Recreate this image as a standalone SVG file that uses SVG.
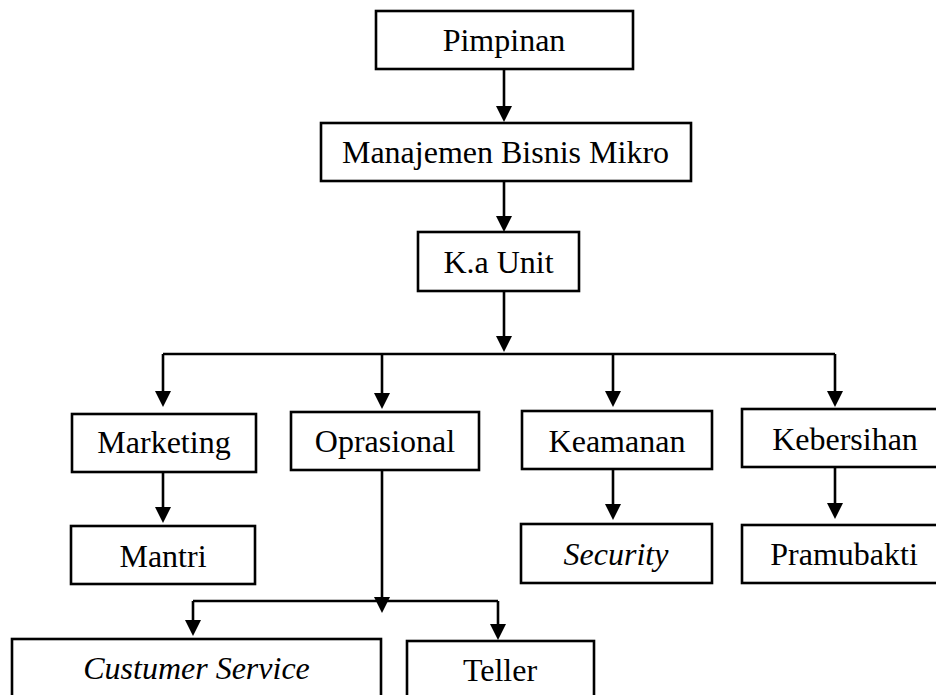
<svg xmlns="http://www.w3.org/2000/svg" width="936" height="695" viewBox="0 0 936 695">
<style>
.box{fill:#fff;stroke:#000;stroke-width:2.6}
.lbl{font-family:"Liberation Serif","Times New Roman",serif;font-size:32px;fill:#000;text-anchor:middle}
.it{font-style:italic}
.ln{fill:none;stroke:#000;stroke-width:2.6}
.ar{fill:none;stroke:#000;stroke-width:2.6;marker-end:url(#ah)}
</style>
<defs>
<marker id="ah" markerUnits="userSpaceOnUse" markerWidth="16" markerHeight="16" refX="8" refY="8" orient="auto">
<path d="M0,0 L16,8 L0,16 z" fill="#000"/>
</marker>
</defs>
<rect width="936" height="695" fill="#fff"/>
<g id="connectors">
<path class="ar" d="M504,69 V114"/>
<path class="ar" d="M504,181 V224"/>
<path class="ar" d="M504,291 V344"/>
<path class="ln" d="M163,354 H835"/>
<path class="ar" d="M163,354 V399"/>
<path class="ar" d="M382,354 V401"/>
<path class="ar" d="M613,354 V399"/>
<path class="ar" d="M835,354 V399"/>
<path class="ar" d="M163,472 V515"/>
<path class="ar" d="M613,469 V512"/>
<path class="ar" d="M835,467 V511"/>
<path class="ar" d="M382,470 V605"/>
<path class="ln" d="M193,601 H498"/>
<path class="ar" d="M193,601 V628"/>
<path class="ar" d="M498,601 V632"/>
</g>
<g id="pimpinan"><rect class="box" x="376" y="11" width="257" height="58"/><text class="lbl" x="504" y="51">Pimpinan</text></g>
<g id="manajemen"><rect class="box" x="321" y="123" width="370" height="58"/><text class="lbl" x="505.5" y="163">Manajemen Bisnis Mikro</text></g>
<g id="kaunit"><rect class="box" x="418" y="232" width="161" height="59"/><text class="lbl" x="498.5" y="273">K.a Unit</text></g>
<g id="marketing"><rect class="box" x="72" y="414" width="184" height="58"/><text class="lbl" x="164" y="453">Marketing</text></g>
<g id="oprasional"><rect class="box" x="291" y="412" width="188" height="58"/><text class="lbl" x="385" y="452">Oprasional</text></g>
<g id="keamanan"><rect class="box" x="522" y="411" width="190" height="58"/><text class="lbl" x="617" y="452">Keamanan</text></g>
<g id="kebersihan"><rect class="box" x="742" y="409" width="210" height="58"/><text class="lbl" x="845" y="450">Kebersihan</text></g>
<g id="mantri"><rect class="box" x="71" y="526" width="184" height="58"/><text class="lbl" x="163" y="567">Mantri</text></g>
<g id="security"><rect class="box" x="521" y="524" width="191" height="59"/><text class="lbl it" x="616" y="565">Security</text></g>
<g id="pramubakti"><rect class="box" x="742" y="525" width="210" height="58"/><text class="lbl" x="844" y="565">Pramubakti</text></g>
<g id="cs"><rect class="box" x="12" y="639" width="369" height="70"/><text class="lbl it" x="196.5" y="679">Custumer Service</text></g>
<g id="teller"><rect class="box" x="407" y="641" width="187" height="70"/><text class="lbl" x="500" y="681">Teller</text></g>
</svg>
